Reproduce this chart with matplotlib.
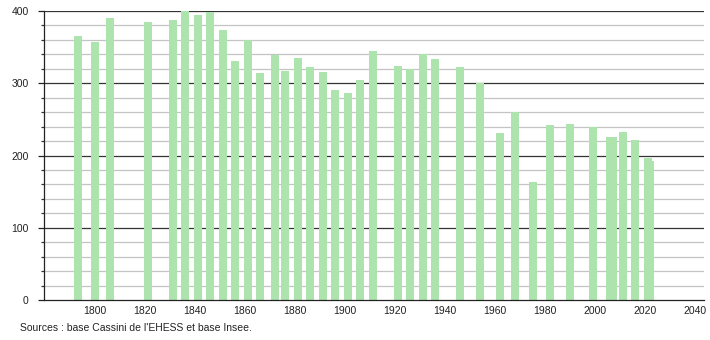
import matplotlib
matplotlib.use("Agg")
from matplotlib import pyplot as plt
from matplotlib.ticker import MultipleLocator

# census years and population
years = [1793, 1800, 1806, 1821, 1831, 1836, 1841, 1846, 1851, 1856,
         1861, 1866, 1872, 1876, 1881, 1886, 1891, 1896, 1901, 1906,
         1911, 1921, 1926, 1931, 1936, 1946, 1954, 1962, 1968, 1975,
         1982, 1990, 1999, 2006, 2007, 2011, 2016, 2021, 2022]
population = [366, 357, 391, 385, 388, 400, 394, 398, 374, 331,
              360, 314, 339, 317, 335, 322, 315, 290, 287, 305,
              344, 324, 320, 340, 334, 323, 300, 231, 260, 163,
              242, 243, 240, 225, 225, 233, 222, 196, 192]

x_ticks = list(range(1800, 2041, 20))
y_ticks = [0, 100, 200, 300, 400]
source = "Sources : base Cassini de l'EHESS et base Insee."

plt.rcParams['font.family'] = ['Liberation Sans', 'DejaVu Sans']

fig = plt.figure(figsize=(7.1, 3.4), dpi=100)
ax = fig.add_axes([44 / 710, 40 / 340, 660 / 710, 289 / 340])

# grid: grey every 20, dark every 100
for v in range(20, 400, 20):
    if v % 100:
        ax.axhline(v, color="#c4c4c4", lw=0.9, zorder=0)
for v in y_ticks[1:]:
    ax.axhline(v, color="#333333", lw=0.9, zorder=0)

ax.bar(years, population, width=3.2, color="#ade4ad", zorder=2)

ax.set_xlim(1779.5, 2043.5)
ax.set_ylim(0, 400)
ax.set_xticks(x_ticks)
ax.set_yticks(y_ticks)
ax.yaxis.set_minor_locator(MultipleLocator(20))
ax.tick_params(axis="x", length=0, pad=4, labelsize=7.5, colors="#222222")
ax.tick_params(axis="y", which="major", length=4, width=0.9, pad=7,
               labelsize=7.5, colors="#222222")
ax.tick_params(axis="y", which="minor", length=2.5, width=0.9, color="#333333")

for side in ["top", "right"]:
    ax.spines[side].set_visible(False)
ax.spines["left"].set_color("#222222")
ax.spines["bottom"].set_color("#222222")
ax.spines["left"].set_linewidth(0.9)
ax.spines["bottom"].set_linewidth(0.9)

fig.text(20 / 710, 1 - 328 / 340, source, fontsize=7.5, va="center",
         ha="left", color="#222222")

fig.savefig("out.png", dpi=100)
